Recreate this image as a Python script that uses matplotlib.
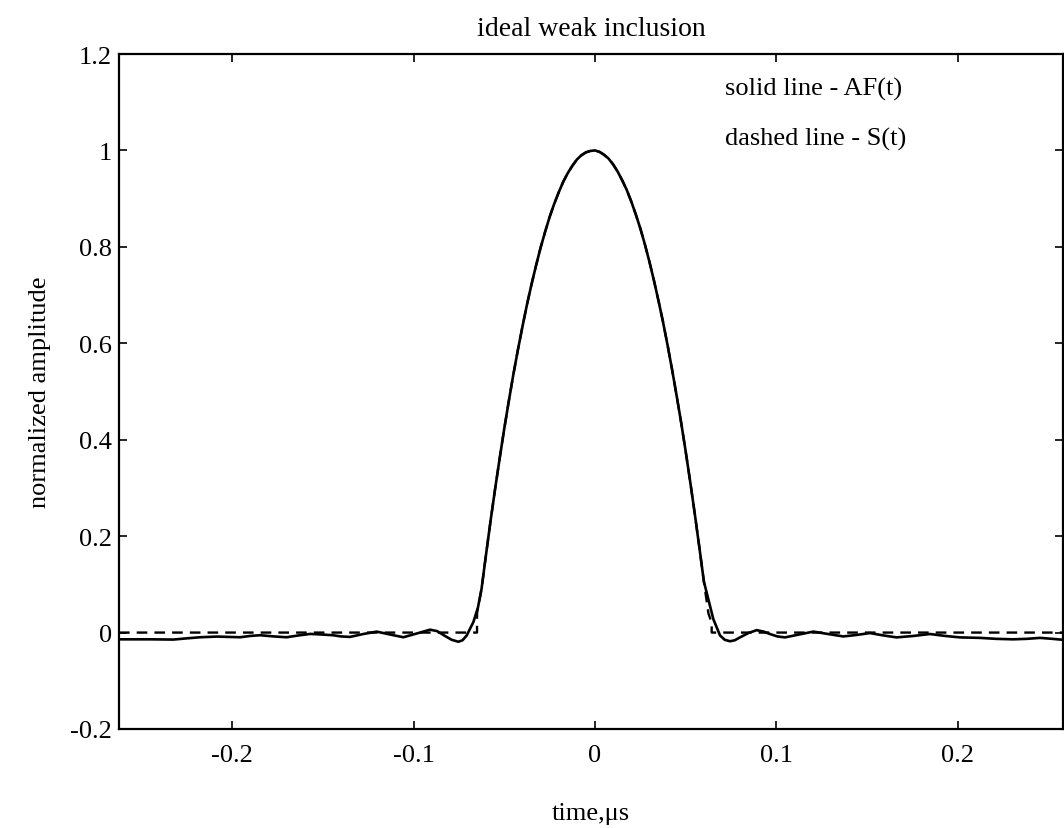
import matplotlib
matplotlib.use("Agg")
import matplotlib.pyplot as plt
import numpy as np

# time axis in microseconds and the two normalized waveforms
pulse_t = [-0.0600, -0.0575, -0.0550, -0.0525, -0.0500, -0.0475, -0.0450, -0.0425,
           -0.0400, -0.0375, -0.0350, -0.0325, -0.0300, -0.0275, -0.0250, -0.0225,
           -0.0200, -0.0175, -0.0150, -0.0125, -0.0100, -0.0075, -0.0050, -0.0025,
           0.0000, 0.0025, 0.0050, 0.0075, 0.0100, 0.0125, 0.0150, 0.0175,
           0.0200, 0.0225, 0.0250, 0.0275, 0.0300, 0.0325, 0.0350, 0.0375,
           0.0400, 0.0425, 0.0450, 0.0475, 0.0500, 0.0525, 0.0550, 0.0575, 0.0600]
pulse_v = [0.163, 0.233, 0.299, 0.362, 0.423, 0.480, 0.535, 0.586,
           0.634, 0.680, 0.722, 0.761, 0.798, 0.831, 0.862, 0.889,
           0.913, 0.935, 0.953, 0.968, 0.981, 0.990, 0.996, 0.999,
           1.000, 0.997, 0.991, 0.983, 0.971, 0.956, 0.938, 0.918,
           0.894, 0.867, 0.838, 0.805, 0.769, 0.730, 0.688, 0.644,
           0.596, 0.545, 0.491, 0.435, 0.375, 0.312, 0.246, 0.177, 0.106]

# AF(t): ripple on the left of the pulse
af_left_t = [-0.2623, -0.2571, -0.2452, -0.2323, -0.2250, -0.2176, -0.2084, -0.2020,
             -0.1956, -0.1900, -0.1846, -0.1770, -0.1699, -0.1635, -0.1570, -0.1507,
             -0.1444, -0.1400, -0.1350, -0.1277, -0.1203, -0.1130, -0.1056, -0.0983,
             -0.0909, -0.0870, -0.0831, -0.0790, -0.0753, -0.0730, -0.0707, -0.0670,
             -0.0645, -0.0625]
af_left_v = [-0.014, -0.014, -0.014, -0.0145, -0.012, -0.0097, -0.0083, -0.009,
             -0.0097, -0.007, -0.0055, -0.008, -0.0097, -0.006, -0.0028, -0.004,
             -0.0055, -0.008, -0.009, -0.003, 0.002, -0.004, -0.0097, -0.002,
             0.006, 0.003, -0.006, -0.015, -0.019, -0.016, -0.006, 0.022,
             0.052, 0.091]
# AF(t): ripple on the right of the pulse
af_right_t = [0.0624, 0.0652, 0.0689, 0.0715, 0.0744, 0.0770, 0.0799, 0.0845,
              0.0891, 0.0930, 0.0964, 0.1005, 0.1047, 0.1125, 0.1203, 0.1285,
              0.1368, 0.1440, 0.1515, 0.1590, 0.1662, 0.1755, 0.1846, 0.1930,
              0.2011, 0.2121, 0.2210, 0.2303, 0.2380, 0.2452, 0.2520, 0.2579]
af_right_v = [0.070, 0.028, -0.006, -0.015, -0.018, -0.016, -0.010, -0.001,
              0.005, 0.002, -0.003, -0.008, -0.010, -0.004, 0.002, -0.003,
              -0.008, -0.005, -0.001, -0.006, -0.010, -0.007, -0.003, -0.007,
              -0.010, -0.011, -0.013, -0.014, -0.013, -0.011, -0.013, -0.015]

# S(t): zero outside the pulse, with short steps at its edges
s_left_t = [-0.2623, -0.0650, -0.0650, -0.0625]
s_left_v = [0.0, 0.0, 0.040, 0.091]
s_right_t = [0.0625, 0.0643, 0.0643, 0.2579]
s_right_v = [0.040, 0.020, 0.0, 0.0]

af_t = np.array(af_left_t + pulse_t + af_right_t)
af_v = np.array(af_left_v + pulse_v + af_right_v)
s_t = np.array(s_left_t + pulse_t + s_right_t)
s_v = np.array(s_left_v + pulse_v + s_right_v)

x_ticks = [-0.2, -0.1, 0, 0.1, 0.2]
x_tick_labels = ["-0.2", "-0.1", "0", "0.1", "0.2"]
y_ticks = [-0.2, 0, 0.2, 0.4, 0.6, 0.8, 1.0, 1.2]
y_tick_labels = ["-0.2", "0", "0.2", "0.4", "0.6", "0.8", "1", "1.2"]

plt.rcParams["font.family"] = ["Liberation Serif", "DejaVu Serif"]

fig = plt.figure(figsize=(10.64, 8.29), dpi=100)
ax = fig.add_axes([119 / 1064, 1 - 730 / 829, (1063 - 119) / 1064, (730 - 55) / 829])

ax.plot(af_t, af_v, color="black", lw=1.9, solid_joinstyle="round")
ax.plot(s_t, s_v, color="black", lw=1.7, dashes=(4.5, 3))

ax.set_xlim(-0.2623, 0.2579)
ax.set_ylim(-0.2, 1.2)
ax.set_xticks(x_ticks)
ax.set_xticklabels(x_tick_labels)
ax.set_yticks(y_ticks)
ax.set_yticklabels(y_tick_labels)
ax.tick_params(direction="in", length=6, width=1.2, top=True, right=True,
               labelsize=19)
ax.tick_params(axis="x", pad=11)
ax.tick_params(axis="y", pad=5)
for sp in ax.spines.values():
    sp.set_linewidth(1.6)

ax.set_title("ideal weak inclusion", fontsize=20, pad=14)
ax.set_xlabel("time,μs", fontsize=19, labelpad=26)
ax.set_ylabel("normalized amplitude", fontsize=19, labelpad=14)

ax.text(0.0716, 1.128, "solid line - AF(t)", fontsize=19, va="center", ha="left")
ax.text(0.0716, 1.024, "dashed line - S(t)", fontsize=19, va="center", ha="left")

fig.savefig("out.png", dpi=100)
